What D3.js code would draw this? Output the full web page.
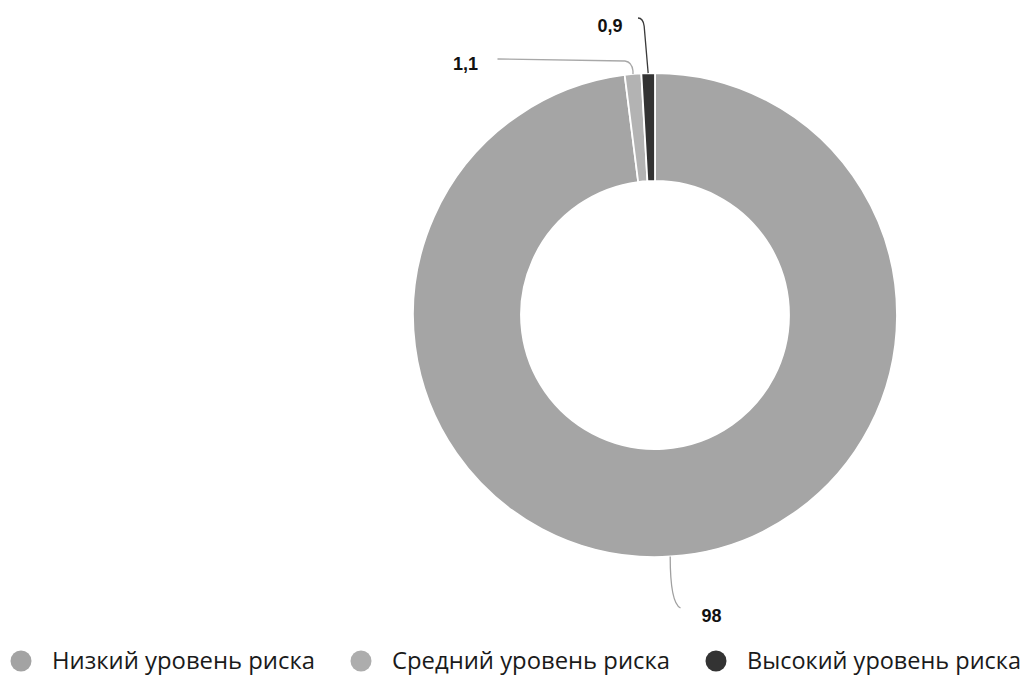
<!DOCTYPE html>
<html>
<head>
<meta charset="utf-8">
<script src="https://cdn.jsdelivr.net/npm/d3@7"></script>
<style>
body { margin: 0; background: #fff; }
.lbl { font-family: "Liberation Sans", Arial, sans-serif; font-weight: bold; font-size: 18px; fill: #111; }
.leg { font-family: "Open Sans", sans-serif; font-size: 23px; fill: #1a1a1a; }
</style>
</head>
<body>
<div id="chart"></div>
<script>
const categories = ["Низкий уровень риска", "Средний уровень риска", "Высокий уровень риска"];
const values = [98, 1.1, 0.9];
const valueLabels = ["98", "1,1", "0,9"];
const colors = ["#a5a5a5", "#b3b3b3", "#333333"];
const lineColors = ["#a0a0a0", "#a8a8a8", "#3a3a3a"];

const width = 1032, height = 676;
const cx = 655, cy = 315, outerR = 242, innerR = 134;

const svg = d3.select("#chart").append("svg")
    .attr("width", width)
    .attr("height", height);

const g = svg.append("g")
    .attr("transform", "translate(" + cx + "," + cy + ")");

const data = categories.map((c, i) => ({name: c, value: values[i], label: valueLabels[i], i: i}));

const pie = d3.pie().sort(null).value(d => d.value);
const arc = d3.arc().innerRadius(innerR).outerRadius(outerR);
const arcs = pie(data);

g.selectAll(".slice")
    .data(arcs)
  .enter().append("path")
    .attr("class", "slice")
    .attr("d", arc)
    .attr("fill", d => colors[d.data.i])
    .attr("stroke", "#fff")
    .attr("stroke-width", 1.8);

// label positions relative to centre
const labelPos = [[56.5, 307], [-189.5, -245], [-45, -283]];

arcs.forEach(d => {
  const a = (d.startAngle + d.endAngle) / 2;
  const p = [Math.sin(a) * outerR, -Math.cos(a) * outerR];
  const l = labelPos[d.data.i];
  let path;
  if (d.data.i === 0) {
    path = `M${p[0]},${p[1]} C${p[0]},${p[1] + 30} ${p[0] + 3},${p[1] + 48} ${l[0] - 31},${l[1] - 14}`;
  } else if (d.data.i === 1) {
    path = `M${p[0]},${p[1]} L${p[0]},${p[1] - 3} Q${p[0] - 1},${p[1] - 12} ${p[0] - 8},${p[1] - 13} L${l[0] + 32},${l[1] - 11}`;
  } else {
    path = `M${p[0]},${p[1]} L${p[0] - 4},${p[1] - 47} Q${p[0] - 5},${p[1] - 55} ${l[0] + 28},${l[1] - 14}`;
  }
  g.append("path")
    .attr("d", path)
    .attr("fill", "none")
    .attr("stroke", lineColors[d.data.i])
    .attr("stroke-width", 1.3);
  g.append("text")
    .attr("class", "lbl")
    .attr("x", l[0])
    .attr("y", l[1])
    .attr("text-anchor", "middle")
    .text(d.data.label);
});

// legend
const legendX = [21, 361, 716];
const legendW = [263, 278, 274];
const legend = svg.selectAll(".legend")
    .data(data)
  .enter().append("g")
    .attr("class", "legend")
    .attr("transform", (d, i) => "translate(" + legendX[i] + ",661)");

legend.append("circle")
    .attr("r", 10.5)
    .attr("fill", d => d.i === 2 ? "#333" : (d.i === 1 ? "#adadad" : "#a3a3a3"));

legend.append("text")
    .attr("class", "leg")
    .attr("x", 31)
    .attr("y", 8)
    .attr("textLength", d => legendW[d.i])
    .attr("lengthAdjust", "spacingAndGlyphs")
    .text(d => d.name);
</script>
</body>
</html>
